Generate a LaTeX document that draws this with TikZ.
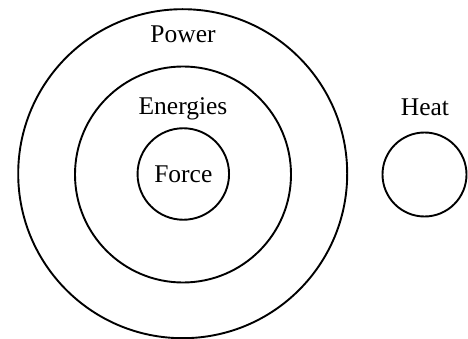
\documentclass[tikz,border=0pt]{standalone}
\usepackage{fontspec}
\setmainfont{Liberation Serif}
\begin{document}
\begin{tikzpicture}[x=1pt,y=-1pt,
  ring/.style={circle,draw=black,line width=1.9pt,inner sep=0pt,outer sep=0pt},
  lbl/.style={anchor=base,inner sep=0pt,font=\fontsize{25.5}{30}\selectfont}]
\path[use as bounding box,fill=white] (0,0) rectangle (468,339);
\node[ring,minimum size=329pt] (power) at (182.7,173.7) {};
\node[ring,minimum size=216pt] (energies) at (183,174.5) {};
\node[ring,minimum size=91.5pt] (force) at (183.3,174) {};
\node[ring,minimum size=84pt] (heat) at (424.5,174.5) {};
\node[lbl] (tpower) at (183,42.7) {Power};
\node[lbl] (tenergies) at (183,115) {Energies};
\node[lbl] (tforce) at (183.3,182.7) {Force};
\node[lbl] (theat) at (425,116) {Heat};
\end{tikzpicture}
\end{document}
